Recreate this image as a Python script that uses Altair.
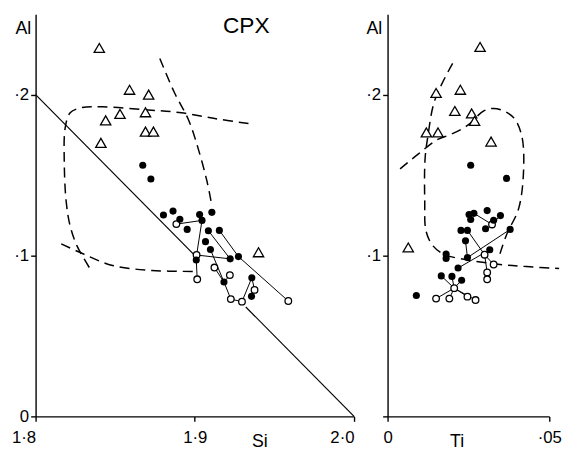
import altair as alt
import pandas as pd

FONT = "Liberation Sans"

# ---------------- data ----------------
# Left panel: Si (x) vs Al (y)
left_filled_si = [1.8673, 1.8724, 1.8803, 1.8863, 1.8906, 1.8952, 1.9030, 1.9045, 1.9107, 1.9085,
                  1.9154, 1.9067, 1.9098, 1.9009, 1.9222, 1.9274, 1.9183, 1.9358, 1.9356]
left_filled_al = [0.1561, 0.1475, 0.1252, 0.1276, 0.1225, 0.1162, 0.1254, 0.1218, 0.1268, 0.1154,
                  0.1156, 0.1086, 0.1037, 0.0972, 0.0979, 0.0993, 0.0835, 0.0862, 0.0746]
left_open_si = [1.8884, 1.9011, 1.9015, 1.9123, 1.9220, 1.9375, 1.9226, 1.9296, 1.9587]
left_open_al = [0.1195, 0.1003, 0.0852, 0.0925, 0.0878, 0.0786, 0.0729, 0.0713, 0.0717]
left_tri_si = [1.840, 1.859, 1.871, 1.844, 1.853, 1.869, 1.869, 1.874, 1.841, 1.940]
left_tri_al = [0.229, 0.203, 0.200, 0.184, 0.188, 0.189, 0.177, 0.177, 0.170, 0.102]
left_ties = [(("o", 0), ("f", 7)), (("o", 1), ("f", 7)), (("o", 1), ("f", 14)), (("f", 13), ("o", 2)),
             (("f", 9), ("f", 14)), (("f", 10), ("f", 15)), (("f", 15), ("o", 8)), (("f", 12), ("f", 16)),
             (("o", 3), ("f", 16)), (("f", 16), ("o", 6)), (("f", 17), ("o", 5)), (("f", 17), ("o", 7)),
             (("o", 5), ("f", 18)), (("o", 6), ("o", 7)), (("o", 4), ("f", 16))]
# Al + Si = 2 reference line (drawn with a gap through the cluster)
ref_si1 = [1.800, 1.932]
ref_al1 = [0.200, 0.068]
ref_si2 = [1.899, 2.000]
ref_al2 = [0.101, 0.000]
# dashed field boundaries, left panel
curve_a_si = [1.9337, 1.9133, 1.8916, 1.8687, 1.8421, 1.8285, 1.8217, 1.8186, 1.8180, 1.8192, 1.8217, 1.8260, 1.8341]
curve_a_al = [0.1820, 0.1850, 0.1887, 0.1906, 0.1924, 0.1918, 0.1887, 0.1795, 0.1581, 0.1336, 0.1183, 0.1060, 0.0919]
curve_b_si = [1.8780, 1.8873, 1.8960, 1.9022, 1.9077, 1.9108]
curve_b_al = [0.2224, 0.2010, 0.1844, 0.1661, 0.1458, 0.1305]
curve_c_si = [1.8161, 1.8297, 1.8483, 1.8731, 1.8991]
curve_c_al = [0.1072, 0.1011, 0.0938, 0.0907, 0.0901]

# Right panel: Ti (x) vs Al (y)
right_filled_ti = [0.0257, 0.0368, 0.0252, 0.0267, 0.0257, 0.0308, 0.0349, 0.0328, 0.0303, 0.0227, 0.0247,
                   0.0241, 0.0379, 0.0316, 0.0247, 0.0181, 0.0181, 0.0218, 0.0166, 0.0199, 0.0229, 0.0089]
right_filled_al = [0.1561, 0.1479, 0.1254, 0.1262, 0.1224, 0.1279, 0.1248, 0.1219, 0.1166, 0.1156, 0.1156,
                   0.1091, 0.1162, 0.1036, 0.0987, 0.1009, 0.0982, 0.0922, 0.0873, 0.0870, 0.0846, 0.0751]
right_open_ti = [0.0323, 0.0300, 0.0328, 0.0308, 0.0308, 0.0206, 0.0150, 0.0191, 0.0247, 0.0272]
right_open_al = [0.1193, 0.1005, 0.0944, 0.0895, 0.0852, 0.0797, 0.0732, 0.0732, 0.0744, 0.0723]
right_tri_ti = [0.0286, 0.0150, 0.0225, 0.0208, 0.0260, 0.0269, 0.0120, 0.0156, 0.0320, 0.0064]
right_tri_al = [0.2296, 0.2010, 0.2030, 0.1898, 0.1883, 0.1836, 0.1765, 0.1765, 0.1708, 0.1050]
right_ties = [(("f", 14), ("f", 12)), (("f", 10), ("o", 1)), (("f", 11), ("f", 14)), (("f", 13), ("f", 17)),
              (("o", 1), ("o", 2)), (("o", 1), ("o", 3)), (("o", 3), ("o", 4)), (("f", 3), ("o", 0)),
              (("f", 6), ("o", 0)), (("o", 5), ("o", 6)), (("o", 5), ("o", 7)), (("o", 5), ("o", 8)),
              (("o", 5), ("o", 9)), (("o", 5), ("f", 18)), (("o", 5), ("f", 20)), (("f", 19), ("o", 5))]
# dashed field boundaries, right panel
curve_d_ti = [0.02012, 0.01463, 0.01250, 0.01159, 0.01149, 0.01189, 0.01402, 0.01768, 0.02256, 0.03476, 0.04299, 0.05305]
curve_d_al = [0.2194, 0.1967, 0.1746, 0.1599, 0.1336, 0.1152, 0.1060, 0.1005, 0.0980, 0.0944, 0.0931, 0.0919]
curve_e_ti = [0.00387, 0.00945, 0.01555, 0.01951, 0.02470, 0.02988, 0.03384, 0.03893, 0.04146, 0.04207, 0.04055, 0.03689, 0.03476]
curve_e_al = [0.1538, 0.1630, 0.1722, 0.1752, 0.1808, 0.1900, 0.1912, 0.1857, 0.1746, 0.1538, 0.1293, 0.1134, 0.1011]


# ---------------- helpers ----------------
def pts(xs, ys):
    return pd.DataFrame({"x": xs, "y": ys})


def ties(pairs, fx, fy, ox, oy):
    look = {"f": (fx, fy), "o": (ox, oy)}
    rows = []
    for (a, i), (b, j) in pairs:
        rows.append({"x": look[a][0][i], "y": look[a][1][i],
                     "x2": look[b][0][j], "y2": look[b][1][j]})
    return pd.DataFrame(rows)


def segs(x1s, y1s, x2s, y2s):
    return pd.DataFrame({"x": x1s, "y": y1s, "x2": x2s, "y2": y2s})


def curves(curve_list):
    rows = []
    for cid, (xs, ys) in enumerate(curve_list):
        for k, (x, y) in enumerate(zip(xs, ys)):
            rows.append({"x": x, "y": y, "c": cid, "k": k})
    return pd.DataFrame(rows)


def panel(X, Y, filled, opened, tris, tie_df, curve_df, extra_rule=None):
    layers = []
    if extra_rule is not None:
        layers.append(alt.Chart(extra_rule).mark_rule(color="black", strokeWidth=1.2)
                      .encode(x=X, y=Y, x2="x2:Q", y2="y2:Q"))
    layers.append(alt.Chart(tie_df).mark_rule(color="black", strokeWidth=1.0)
                  .encode(x=X, y=Y, x2="x2:Q", y2="y2:Q"))
    layers.append(alt.Chart(curve_df).mark_line(color="black", strokeWidth=1.5,
                                                 strokeDash=[10, 6], interpolate="catmull-rom")
                  .encode(x=X, y=Y, detail="c:N", order="k:Q"))
    layers.append(alt.Chart(opened).mark_point(shape="circle", filled=True, fill="white",
                                                stroke="black", strokeWidth=1.3, size=45, opacity=1)
                  .encode(x=X, y=Y))
    layers.append(alt.Chart(filled).mark_point(shape="circle", filled=True, color="black",
                                                size=52, opacity=1)
                  .encode(x=X, y=Y))
    layers.append(alt.Chart(tris).mark_point(shape="triangle-up", filled=True, fill="white",
                                              stroke="black", strokeWidth=1.3, size=110, opacity=1)
                  .encode(x=X, y=Y))
    return alt.layer(*layers)


Y_SCALE = alt.Scale(domain=[0, 0.25], nice=False, zero=False)
X_ALIGN = {"condition": {"test": "datum.value >= 1.99 || datum.value <= 1.81", "value": "right"},
           "value": "center"}

# ---------------- left panel ----------------
XL = alt.X("x:Q", scale=alt.Scale(domain=[1.8, 2.0], nice=False, zero=False),
           axis=alt.Axis(values=[1.8, 1.9, 2.0],
                         labelExpr="replace(format(datum.value, '.1f'), '.', '·')",
                         labelFlush=False, labelAlign=X_ALIGN,
                         title="Si", titleX=227, titleY=31, titleAlign="center",
                         titleBaseline="alphabetic", labelPadding=8))
YL = alt.Y("y:Q", scale=Y_SCALE,
           axis=alt.Axis(values=[0, 0.1, 0.2],
                         labelExpr="datum.value == 0 ? '0' : replace(format(datum.value, '.1f'), '0.', '·')",
                         title="Al", titleAngle=0, titleX=-13, titleY=20, titleAlign="center",
                         titleBaseline="alphabetic"))

ref_df = segs([ref_si1[0], ref_si1[1]], [ref_al1[0], ref_al1[1]], [ref_si2[0], ref_si2[1]], [ref_al2[0], ref_al2[1]])

left = panel(XL, YL,
             pts(left_filled_si, left_filled_al),
             pts(left_open_si, left_open_al),
             pts(left_tri_si, left_tri_al),
             ties(left_ties, left_filled_si, left_filled_al, left_open_si, left_open_al),
             curves([(curve_a_si, curve_a_al), (curve_b_si, curve_b_al), (curve_c_si, curve_c_al)]),
             extra_rule=ref_df).properties(
    width=323, height=408,
    title=alt.TitleParams("CPX", anchor="start", frame="group", dx=190, dy=28,
                          font=FONT, fontSize=23, fontWeight="normal", color="black", align="left"))

# ---------------- right panel ----------------
XR = alt.X("x:Q", scale=alt.Scale(domain=[0, 0.05], nice=False, zero=False),
           axis=alt.Axis(values=[0, 0.05],
                         labelExpr="datum.value == 0 ? '0' : '·05'",
                         labelFlush=False,
                         title="Ti", titleX=70, titleY=31, titleAlign="center",
                         titleBaseline="alphabetic", labelPadding=8))
YR = alt.Y("y:Q", scale=Y_SCALE,
           axis=alt.Axis(values=[0, 0.1, 0.2],
                         labelExpr="datum.value == 0 ? '' : replace(format(datum.value, '.1f'), '0.', '·')",
                         title="Al", titleAngle=0, titleX=-14, titleY=20, titleAlign="center",
                         titleBaseline="alphabetic"))

right = panel(XR, YR,
              pts(right_filled_ti, right_filled_al),
              pts(right_open_ti, right_open_al),
              pts(right_tri_ti, right_tri_al),
              ties(right_ties, right_filled_ti, right_filled_al, right_open_ti, right_open_al),
              curves([(curve_d_ti, curve_d_al), (curve_e_ti, curve_e_al)])).properties(width=164, height=408)

chart = alt.hconcat(left, right, spacing=34, bounds="flush").resolve_scale(
    x="independent", y="independent"
).properties(
    padding={"left": 3, "top": 3, "right": 5, "bottom": 5},
    background="white",
).configure_view(stroke=None).configure_axis(
    grid=False, domainColor="black", domainWidth=1.4, tickColor="black", tickWidth=1.4,
    tickSize=5, labelColor="black", labelFont=FONT, labelFontSize=17, titleFont=FONT,
    titleFontSize=18, titleFontWeight="normal", titleColor="black", labelPadding=2
)

chart.save("out.html", embed_options={"renderer": "svg", "actions": False})
